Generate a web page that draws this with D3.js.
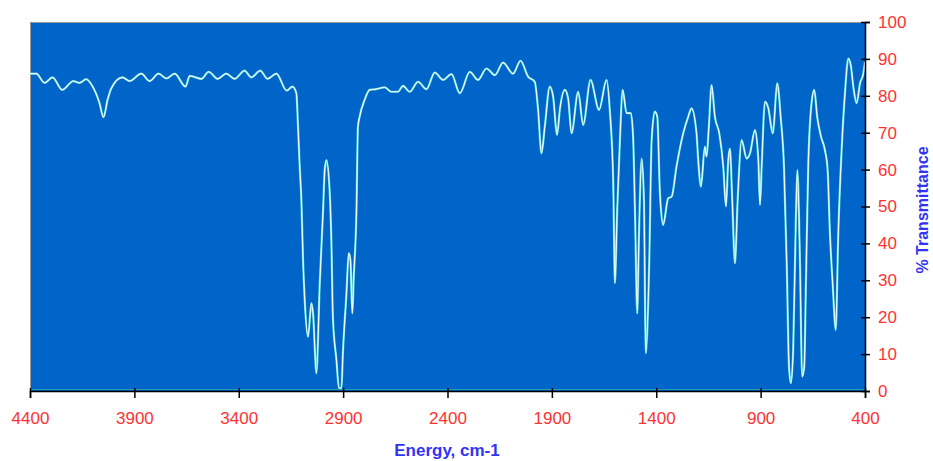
<!DOCTYPE html>
<html>
<head>
<meta charset="utf-8">
<script src="https://cdn.jsdelivr.net/npm/d3@7"></script>
<style>
  body { margin: 0; background: #fff; }
  svg { display: block; }
</style>
</head>
<body>
<div id="app"></div>
<script>
// spectrum values
const wavenumbers = [
  4400, 4370, 4330, 4292, 4246, 4192, 4163, 4131, 4100, 4067, 4048, 4028, 4011,
  3957, 3923, 3867, 3827, 3784, 3747, 3707, 3655, 3635, 3579, 3544, 3501, 3460,
  3420, 3372, 3340, 3297, 3262, 3220, 3170, 3143, 3124, 3116, 3108, 3100, 3092,
  3084, 3068, 3052, 3044, 3028, 3012, 2996, 2988, 2980, 2964, 2956, 2949, 2932,
  2920, 2908, 2901, 2884, 2873, 2865, 2856, 2849, 2836, 2829, 2821, 2797, 2773,
  2741, 2701, 2669, 2637, 2613, 2581, 2541, 2501, 2461, 2421, 2381, 2341, 2293,
  2254, 2213, 2173, 2134, 2086, 2050, 2014, 1982, 1966, 1950, 1934, 1910, 1894,
  1875, 1862, 1838, 1822, 1806, 1774, 1750, 1715, 1674, 1638, 1622, 1606, 1598,
  1587, 1574, 1561, 1542, 1522, 1511, 1502, 1491, 1483, 1470, 1459, 1450, 1434,
  1422, 1407, 1395, 1383, 1367, 1343, 1326, 1303, 1271, 1247, 1231, 1207, 1199,
  1186, 1167, 1159, 1148, 1135, 1119, 1098, 1079, 1066, 1055, 1047, 1036, 1023,
  1010, 991, 967, 951, 927, 911, 903, 895, 879, 863, 842, 820, 804, 788, 775,
  764, 755, 744, 731, 724, 712, 701, 691, 683, 672, 656, 643, 629, 611, 592,
  579, 568, 555, 540, 528, 512, 496, 480, 467, 456, 440, 424, 408, 400
];

const transmittance = [
  86, 86, 83.5, 85, 81.6, 84, 83.5, 84.5, 82.5, 78, 74.2, 79, 82,
  85, 84, 86, 84, 86, 84.7, 86, 82.5, 85.4, 84.6, 86.5, 84.6, 86,
  84.6, 86.8, 85, 86.8, 84.6, 86, 81.4, 82.5, 80.7, 71.6, 60.8, 51.8, 35.5,
  24.7, 14.7, 23.8, 21, 4.8, 29, 49, 60, 62.6, 53.6, 40, 20, 8.4,
  0.8, 0.8, 10.3, 26.5, 37.4, 35.5, 21, 31, 49, 71.6, 74.3, 78.9, 81.6,
  81.8, 82.3, 81.1, 81.1, 82.7, 81.1, 83.8, 81.8, 86.3, 84.3, 85.9, 80.7, 86.5,
  84.3, 87.4, 85.6, 89, 86, 89.5, 85.2, 83.8, 76.2, 64.4, 71.6, 82.5, 79.8,
  69.4, 76.2, 81.6, 79.3, 69.8, 81.1, 72.1, 84.3, 76.2, 84.3, 75.7, 56.3, 29.2,
  49, 68, 81.6, 75.3, 75.3, 69, 49, 21, 41.8, 63, 51.8, 10.2, 33.7,
  68, 75.7, 74.3, 54.5, 45, 52.2, 52.7, 60.8, 69.8, 74.3, 76.6, 69.8, 62.6,
  55.4, 66.2, 63.5, 71.6, 82.9, 74.3, 69.8, 60.8, 50, 62.6, 65.7, 51.8, 34.6,
  51.8, 68, 63, 64.4, 70.7, 62.6, 50.4, 60.8, 78.4, 76.6, 69.8, 83.4, 74.3, 60.8, 34.6,
  6.6, 2.1, 11.1, 47.2, 59.9, 36.4, 3.9, 6.6, 29.2, 60.8, 78, 81.6, 74.3, 69, 65.3,
  59.9, 42.7, 29.2, 16.5, 42.7, 65.3, 80.7, 90.1, 87.9, 82.5, 78, 83.4, 86, 89.2
];

const xTicks = [4400, 3900, 3400, 2900, 2400, 1900, 1400, 900, 400];
const yTicks = [0, 10, 20, 30, 40, 50, 60, 70, 80, 90, 100];

const data = wavenumbers.map((w, i) => ({ wn: w, t: transmittance[i] }));

const result = Chart(data, { width: 933, height: 461 });
document.getElementById('app').appendChild(result);

function Chart(data, { width, height } = {}) {
  const margin = { top: 22, right: 68, bottom: 70, left: 30 };
  const chartWidth = width - margin.left - margin.right;
  const chartHeight = height - margin.top - margin.bottom;

  const svg = d3.create('svg').attr('width', width).attr('height', height);

  const xScale = d3.scaleLinear().domain([4400, 400]).range([0, chartWidth]);
  const yScale = d3.scaleLinear().domain([0, 100]).range([chartHeight, 0]);

  const wrapper = svg
    .append('g')
    .attr('transform', `translate(${margin.left},${margin.top})`);

  // plot background
  wrapper
    .append('rect')
    .attr('width', chartWidth)
    .attr('height', chartHeight)
    .attr('fill', '#0064c8');

  // grey frame top/left
  wrapper
    .append('path')
    .attr('d', `M0.5,${chartHeight}V0.5H${chartWidth}`)
    .attr('fill', 'none')
    .attr('stroke', '#9a9a9a')
    .attr('stroke-width', 1);

  // spectrum
  const line = d3
    .line()
    .curve(d3.curveMonotoneX)
    .x((d) => xScale(d.wn))
    .y((d) => yScale(d.t));

  wrapper
    .append('path')
    .attr('d', line(data))
    .attr('fill', 'none')
    .attr('stroke', '#5fd0d0')
    .attr('stroke-width', 2.2);

  wrapper
    .append('path')
    .attr('d', line(data))
    .attr('fill', 'none')
    .attr('stroke', '#f2ffff')
    .attr('stroke-width', 1.1);

  // teal line along the bottom
  wrapper
    .append('line')
    .attr('x1', 0)
    .attr('x2', chartWidth)
    .attr('y1', chartHeight - 1.5)
    .attr('y2', chartHeight - 1.5)
    .attr('stroke', '#2a9ab0')
    .attr('stroke-width', 1);

  // Axis X
  const axisX = d3
    .axisBottom(xScale)
    .tickValues(xTicks)
    .tickSize(7)
    .tickPadding(14)
    .tickFormat(d3.format('d'));
  const axisXG = wrapper
    .append('g')
    .attr('transform', `translate(0,${chartHeight})`)
    .call(axisX);

  axisXG.select('.domain').attr('stroke', '#000').attr('stroke-width', 1.5);
  axisXG.selectAll('.tick line').attr('y1', -3).attr('stroke', '#000').attr('stroke-width', 1.5);
  axisXG
    .selectAll('text')
    .attr('fill', '#ff3333')
    .attr('font-family', 'Liberation Sans, Arial, sans-serif')
    .attr('font-size', 17);

  // Axis Y (right)
  const axisY = d3
    .axisRight(yScale)
    .tickValues(yTicks)
    .tickSize(5)
    .tickPadding(8);
  const axisYG = wrapper
    .append('g')
    .attr('transform', `translate(${chartWidth},0)`)
    .call(axisY);

  axisYG.select('.domain').attr('stroke', '#000').attr('stroke-width', 1.5);
  axisYG.selectAll('.tick line').attr('x1', -4).attr('stroke', '#000').attr('stroke-width', 1.5);
  axisYG
    .selectAll('text')
    .attr('fill', '#ff3333')
    .attr('font-family', 'Liberation Sans, Arial, sans-serif')
    .attr('font-size', 17);

  // titles
  svg
    .append('text')
    .attr('x', 447)
    .attr('y', 456)
    .attr('text-anchor', 'middle')
    .attr('fill', '#3333f5')
    .attr('font-family', 'Liberation Sans, Arial, sans-serif')
    .attr('font-weight', 'bold')
    .attr('font-size', 17)
    .text('Energy, cm-1');

  svg
    .append('text')
    .attr('transform', 'translate(928,210) rotate(-90)')
    .attr('text-anchor', 'middle')
    .attr('fill', '#3333f5')
    .attr('font-family', 'Liberation Sans, Arial, sans-serif')
    .attr('font-weight', 'bold')
    .attr('font-size', 16)
    .text('% Transmittance');

  return svg.node();
}
</script>
</body>
</html>
